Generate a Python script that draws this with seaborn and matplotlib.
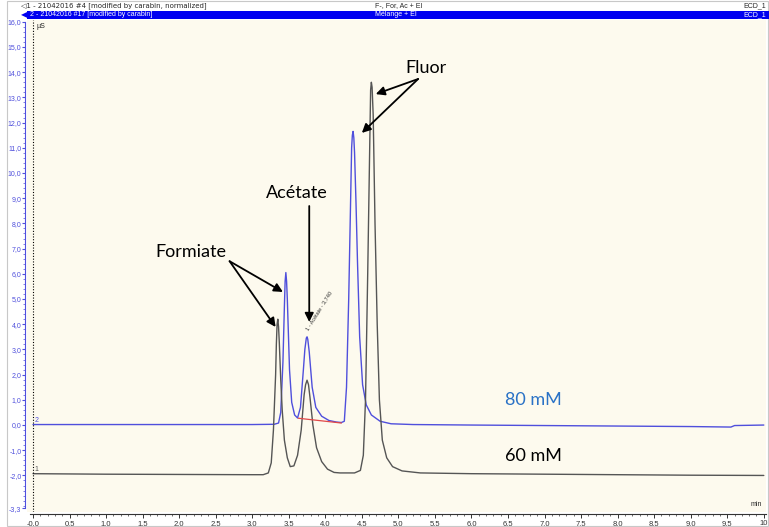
import numpy as np
import pandas as pd
import matplotlib
matplotlib.use('Agg')
import matplotlib.pyplot as plt
import seaborn as sns
from matplotlib.patches import Rectangle

# chromatogram traces (time in min, signal in µS)
blue_t = [0.00, 1.00, 2.00, 3.00, 3.30, 3.36, 3.39, 3.42, 3.44, 3.45, 3.46, 3.47, 3.48,
          3.51, 3.54, 3.58, 3.62, 3.66, 3.70, 3.72, 3.74, 3.75, 3.76, 3.78, 3.82, 3.87,
          3.95, 4.05, 4.15, 4.22, 4.26, 4.29, 4.32, 4.35, 4.36, 4.37, 4.38, 4.39, 4.40,
          4.42, 4.44, 4.47, 4.51, 4.56, 4.63, 4.75, 4.90, 5.20, 6.00, 7.00, 8.00, 9.00,
          9.55, 9.60, 10.00]
blue_y = [0.02, 0.02, 0.02, 0.02, 0.03, 0.08, 0.50, 2.50, 4.70, 5.70, 6.05, 5.70, 5.00,
          2.20, 0.90, 0.40, 0.28, 0.70, 2.20, 3.00, 3.45, 3.50, 3.40, 2.90, 1.50, 0.70,
          0.35, 0.18, 0.12, 0.10, 0.15, 1.50, 5.00, 9.50, 11.00, 11.50, 11.65, 11.40,
          10.80, 8.80, 6.50, 3.50, 1.60, 0.80, 0.40, 0.15, 0.05, 0.02, 0.00, -0.02, -0.04,
          -0.06, -0.08, -0.02, 0.00]

black_t = [0.00, 1.00, 2.00, 3.00, 3.15, 3.22, 3.26, 3.29, 3.32, 3.33, 3.34, 3.35, 3.36,
           3.37, 3.39, 3.41, 3.44, 3.48, 3.52, 3.57, 3.62, 3.67, 3.71, 3.73, 3.75, 3.77,
           3.79, 3.83, 3.88, 3.95, 4.03, 4.12, 4.20, 4.40, 4.48, 4.52, 4.55, 4.58, 4.61,
           4.62, 4.63, 4.64, 4.655, 4.68, 4.71, 4.74, 4.78, 4.84, 4.92, 5.05, 5.30, 6.00,
           7.00, 8.00, 9.00, 10.00]
black_y = [-1.93, -1.95, -1.96, -1.97, -1.97, -1.90, -1.50, -0.20, 2.00, 3.20, 4.00, 4.20,
           3.90, 3.30, 1.80, 0.60, -0.60, -1.30, -1.65, -1.62, -1.20, -0.20, 1.20, 1.60,
           1.78, 1.60, 1.10, 0.00, -0.90, -1.45, -1.75, -1.88, -1.90, -1.90, -1.80, -1.20,
           1.00, 6.00, 11.50, 13.30, 13.60, 13.40, 12.30, 8.00, 4.00, 1.00, -0.60, -1.30,
           -1.65, -1.82, -1.90, -1.93, -1.95, -1.97, -1.99, -2.00]

# integration baseline under the acetate peak
red_t = [3.63, 4.22]
red_y = [0.27, 0.08]

y_ticks = [-3.3] + list(range(-2, 17))
x_ticks = [i * 0.5 for i in range(21)]

BLUE = '#4f4fdc'
GREY = '#555555'

sns.set_style('white')
plt.rcParams['font.family'] = ['Liberation Sans', 'DejaVu Sans']

W, H = 769, 527
fig = plt.figure(figsize=(W / 100, H / 100), dpi=100)
ax = fig.add_axes([27 / W, 15 / H, 739 / W, 492 / H])
ax.set_facecolor('#fdfaee')

blue = pd.DataFrame({'t': blue_t, 'signal': blue_y})
black = pd.DataFrame({'t': black_t, 'signal': black_y})
sns.lineplot(data=blue, x='t', y='signal', estimator=None, sort=False, color=BLUE, lw=1.0, ax=ax)
sns.lineplot(data=black, x='t', y='signal', estimator=None, sort=False, color=GREY, lw=1.0, ax=ax)
ax.plot(red_t, red_y, color='#e04848', lw=0.9)

ax.set_xlim(-0.082, 10.03)
ax.set_ylim(-3.45, 16.07)
ax.set_xlabel('')
ax.set_ylabel('')
ax.axvline(0, color='black', ls=(0, (1, 1.5)), lw=0.8)

for s in ['top', 'right']:
    ax.spines[s].set_visible(False)
ax.spines['left'].set_position(('outward', 1.5))
ax.spines['left'].set_color(BLUE)
ax.spines['left'].set_bounds(-3.3, 16.0)
ax.spines['bottom'].set_position(('outward', 1.5))
ax.spines['bottom'].set_color('#333333')
ax.spines['bottom'].set_bounds(-0.04, 10.03)

ax.set_yticks(y_ticks)
ax.set_yticklabels([f'{v:.1f}'.replace('.', ',') for v in y_ticks])
ax.set_yticks(np.arange(-3.2, 16.01, 0.2), minor=True)
ax.tick_params(axis='y', which='major', colors=BLUE, labelsize=5, length=2, width=0.8, pad=0.5,
               direction='out', left=True)
ax.tick_params(axis='y', which='minor', colors=BLUE, length=1.2, width=0.5, left=True)

xlabels = [f'{v:.1f}'.replace('.', ',') for v in x_ticks]
xlabels[0] = '-0,0'
xlabels[-1] = '10'
ax.set_xticks(x_ticks)
ax.set_xticklabels(xlabels)
ax.set_xticks(np.arange(0, 10.01, 0.1), minor=True)
ax.tick_params(axis='x', which='major', colors='#333333', labelsize=5.5, length=3, width=0.7, pad=1, bottom=True)
ax.tick_params(axis='x', which='minor', colors='#333333', length=1.5, width=0.5, bottom=True)

# small trace / unit labels
ax.text(0.02, 0.05, '2', color=BLUE, fontsize=5, va='bottom')
ax.text(0.02, -1.9, '1', color=GREY, fontsize=5, va='bottom')
ax.text(0.05, 15.95, 'µS', fontsize=5, va='top')
ax.text(9.98, -3.28, 'min', fontsize=5, ha='right', va='bottom')
ax.text(3.91, 4.52, '1 - Acétate - 3,740', fontsize=4, rotation=58, ha='center', va='center', color='#333333')

# peak annotations
big = dict(fontsize=13, family=['Lato', 'DejaVu Sans'], color='black')
arrow = dict(arrowstyle='-|>', color='black', lw=1.3, mutation_scale=13, shrinkA=0, shrinkB=0)
ax.text(2.16, 6.87, 'Formiate', ha='center', va='center', **big)
ax.annotate('', xy=(3.42, 5.28), xytext=(2.69, 6.5), arrowprops=arrow)
ax.annotate('', xy=(3.32, 3.89), xytext=(2.69, 6.5), arrowprops=arrow)
ax.text(3.61, 9.2, 'Acétate', ha='center', va='center', **big)
ax.annotate('', xy=(3.78, 4.09), xytext=(3.78, 8.69), arrowprops=arrow)
ax.text(5.38, 14.17, 'Fluor', ha='center', va='center', **big)
ax.annotate('', xy=(4.69, 13.13), xytext=(5.27, 13.73), arrowprops=arrow)
ax.annotate('', xy=(4.50, 11.59), xytext=(5.27, 13.73), arrowprops=arrow)
ax.text(6.85, 1.0, '80 mM', ha='center', va='center', fontsize=13, family=['Lato', 'DejaVu Sans'], color='#2a72c6')
ax.text(6.85, -1.23, '60 mM', ha='center', va='center', fontsize=13, family=['Lato', 'DejaVu Sans'], color='black')

# header rows of the chromatography software
fig.patches.append(Rectangle((7 / W, 1 / H), 761 / W, 525 / H, transform=fig.transFigure,
                             fill=False, edgecolor='#c8c8c8', lw=0.8))
fig.patches.append(Rectangle((27 / W, 1 - 19 / H), 742 / W, 8 / H, transform=fig.transFigure,
                             facecolor='#0000f0', edgecolor='none'))
fig.text(21 / W, 1 - 6 / H, '◁1 - 21042016 #4 [modified by carabin, normalized]', fontsize=5, va='center',
         family=['DejaVu Sans'])
fig.text(375 / W, 1 - 6 / H, 'F-, For, Ac + EI', fontsize=5, va='center')
fig.text(766 / W, 1 - 6 / H, 'ECD_1', fontsize=5, va='center', ha='right')
fig.text(21 / W, 1 - 15 / H, '◀', fontsize=6, va='center', color='#0000f0', family=['DejaVu Sans'])
fig.text(30 / W, 1 - 15 / H, '2 - 21042016 #17 [modified by carabin]', fontsize=5, va='center', color='white')
fig.text(375 / W, 1 - 15 / H, 'Mélange + EI', fontsize=5, va='center', color='white')
fig.text(766 / W, 1 - 15 / H, 'ECD_1', fontsize=5, va='center', ha='right', color='white')

fig.savefig('out.png', dpi=100)
